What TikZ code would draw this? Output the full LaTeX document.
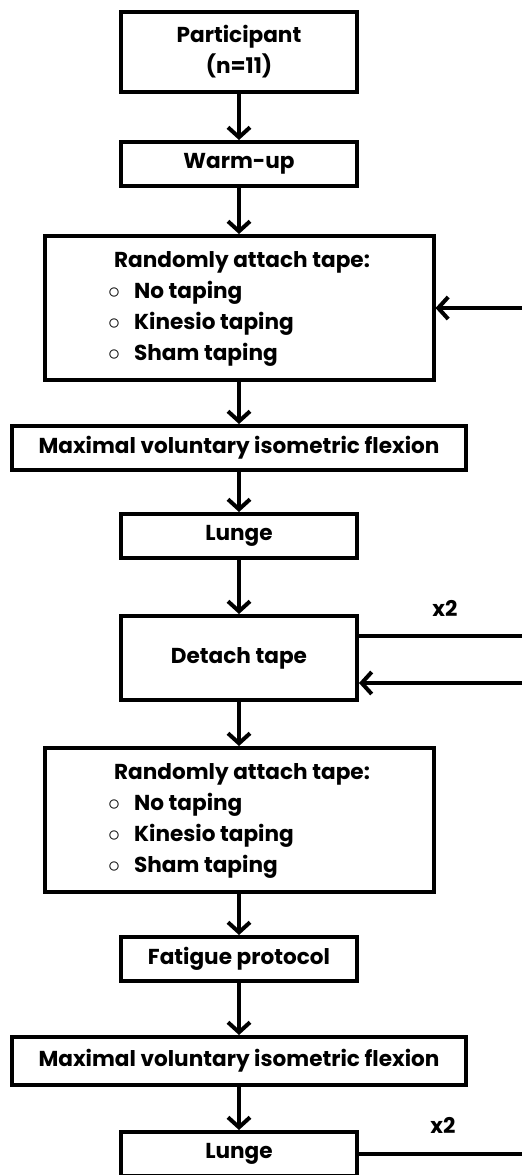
\documentclass[tikz,border=0pt]{standalone}
\usepackage{fontspec}
\setmainfont{Poppins}
\usetikzlibrary{arrows.meta, positioning, calc}

\begin{document}
\begin{tikzpicture}[
    box/.style={draw, line width=2pt, font=\bfseries\fontsize{10.8}{15.5}\selectfont,
                align=center, minimum width=118pt, minimum height=22pt, inner sep=2pt},
    widebox/.style={box, minimum width=227pt},
    listbox/.style={box, minimum width=194.5pt, minimum height=72pt},
    flow/.style={line width=2pt, -{Straight Barb[length=5pt, width=11pt]}},
    loopline/.style={line width=2pt},
    rep/.style={font=\bfseries\fontsize{10.8}{12}\selectfont}]

    % page frame (522 x 1175 px, 1px = 0.5pt)
    \useasboundingbox (0,0) rectangle (261pt,-587.5pt);
    \coordinate (edge) at (261pt,0);

    % tape choices, used twice
    \def\tapelist{\begin{tabular}{@{}c@{\hspace{7pt}}l@{}}
        \multicolumn{2}{@{}l@{}}{\hspace{3pt}Randomly attach tape:}\\
        {\large$\circ$} & No taping\\
        {\large$\circ$} & Kinesio taping\\
        {\large$\circ$} & Sham taping
    \end{tabular}}

    %--- main column ---
    \node[box, minimum height=40pt] (PART) at (119.5pt,-26pt) {Participant\\(n=11)};
    \node[box]     (WARM)   [below=23pt of PART]   {Warm-up};
    \node[listbox] (TAPE1)  [below=23pt of WARM]   {\tapelist};
    \node[widebox] (MVIF1)  [below=21pt of TAPE1]  {Maximal voluntary isometric flexion};
    \node[box]     (LUNGE1) [below=20pt of MVIF1]  {Lunge};
    \node[box, minimum height=42pt] (DETACH) [below=27pt of LUNGE1] {Detach tape};
    \node[listbox] (TAPE2)  [below=22pt of DETACH] {\tapelist};
    \node[box]     (FATIG)  [below=20.5pt of TAPE2] {Fatigue protocol};
    \node[widebox, minimum height=24pt] (MVIF2) [below=26pt of FATIG] {Maximal voluntary isometric flexion};
    \node[box]     (LUNGE2) [below=21.5pt of MVIF2] {Lunge};

    %--- arrows down the column ---
    \foreach \a/\b in {PART/WARM, WARM/TAPE1, TAPE1/MVIF1, MVIF1/LUNGE1, LUNGE1/DETACH,
                       DETACH/TAPE2, TAPE2/FATIG, FATIG/MVIF2, MVIF2/LUNGE2}
        \draw[flow] (\a) -- (\b);

    %--- repeat lines at the right edge ---
    \draw[flow] (TAPE1.east -| edge) -- (TAPE1.east);
    \draw[loopline] ([yshift=11pt]DETACH.east) -- ([yshift=11pt]DETACH.east -| edge);
    \draw[flow] ([yshift=-12.5pt]DETACH.east -| edge) -- ([yshift=-12.5pt]DETACH.east);
    \draw[loopline] (LUNGE2.east) -- (LUNGE2.east -| edge);

    \node[rep] (REP1) at (222.5pt,-304pt)   {x2};
    \node[rep] (REP2) at (221.5pt,-562.5pt) {x2};
\end{tikzpicture}
\end{document}
